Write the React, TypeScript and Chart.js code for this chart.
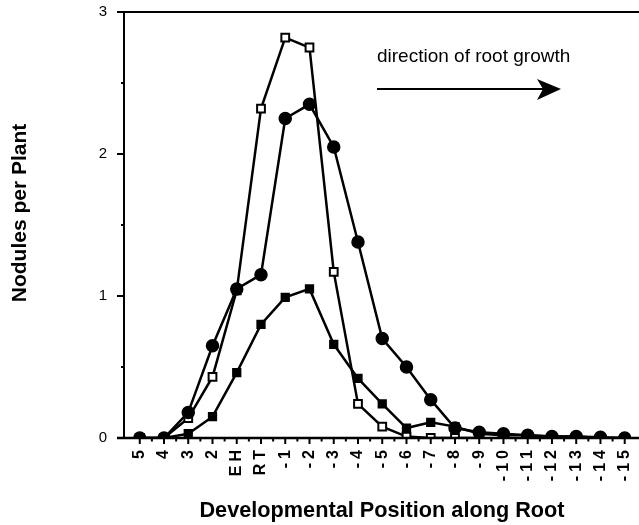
import React, { useEffect, useRef } from "react";
import { Chart, registerables } from "chart.js";

Chart.register(...registerables);

const categories = ["5", "4", "3", "2", "EH", "RT", "-1", "-2", "-3", "-4", "-5", "-6", "-7", "-8", "-9", "-10", "-11", "-12", "-13", "-14", "-15"];
const filledCircles = [0, 0, 0.18, 0.65, 1.05, 1.15, 2.25, 2.35, 2.05, 1.38, 0.7, 0.5, 0.27, 0.07, 0.04, 0.03, 0.02, 0.01, 0.01, 0.005, 0];
const filledSquares = [0, 0, 0.03, 0.15, 0.46, 0.8, 0.99, 1.05, 0.66, 0.42, 0.24, 0.07, 0.11, 0.08, 0.03, 0.02, 0.02, 0.01, 0.01, 0.0, 0];
const openSquares = [0, 0, 0.14, 0.43, 1.04, 2.32, 2.82, 2.75, 1.17, 0.24, 0.08, 0.01, 0, 0, 0, null, null, null, null, null, null];
const yTicks = [0, 1, 2, 3];

const FONT = "'Liberation Sans', Arial, Helvetica, sans-serif";

const toPoints = (arr: (number | null)[]) => arr.map((v, i) => ({ x: i, y: v }));

const decorPlugin = {
  id: "decor",
  afterDraw(chart: any) {
    const ctx = chart.ctx;
    const xs = chart.scales.x;
    const ys = chart.scales.y;
    const area = chart.chartArea;
    ctx.save();
    ctx.strokeStyle = "#000";
    ctx.fillStyle = "#000";
    ctx.lineCap = "butt";
    // axis lines
    ctx.lineWidth = 2.5;
    ctx.beginPath();
    ctx.moveTo(117, ys.getPixelForValue(0));
    ctx.lineTo(chart.width, ys.getPixelForValue(0));
    ctx.stroke();
    ctx.lineWidth = 2;
    ctx.beginPath();
    ctx.moveTo(117, ys.getPixelForValue(3));
    ctx.lineTo(chart.width, ys.getPixelForValue(3));
    ctx.stroke();
    ctx.beginPath();
    ctx.moveTo(area.left, ys.getPixelForValue(3));
    ctx.lineTo(area.left, ys.getPixelForValue(0));
    ctx.stroke();
    // y ticks
    for (let v = 0; v <= 3; v += 0.5) {
      const y = ys.getPixelForValue(v);
      const len = Number.isInteger(v) ? 7 : 3;
      ctx.beginPath();
      ctx.moveTo(area.left - len, y);
      ctx.lineTo(area.left, y);
      ctx.stroke();
    }
    // x ticks
    const y0 = ys.getPixelForValue(0);
    for (let i = 0; i <= categories.length - 1; i += 0.5) {
      const x = xs.getPixelForValue(i);
      const len = Number.isInteger(i) ? 6 : 3.5;
      ctx.beginPath();
      ctx.moveTo(x, y0);
      ctx.lineTo(x, y0 + len);
      ctx.stroke();
    }
    // x tick labels, rotated, reading bottom to top
    ctx.font = `bold 16px ${FONT}`;
    ctx.textAlign = "center";
    ctx.textBaseline = "middle";
    const ls = 4;
    categories.forEach((lab, i) => {
      const x = xs.getPixelForValue(i);
      let yTop = y0 + 12;
      for (let k = lab.length - 1; k >= 0; k--) {
        const ch = lab[k];
        const w = ctx.measureText(ch).width;
        const yc = yTop + w / 2;
        ctx.save();
        ctx.translate(x, yc);
        ctx.rotate(-Math.PI / 2);
        ctx.fillText(ch, 0, 0);
        ctx.restore();
        yTop += w + ls;
      }
    });
    // titles
    ctx.font = `bold 21.7px ${FONT}`;
    ctx.textAlign = "center";
    ctx.textBaseline = "middle";
    ctx.fillText("Developmental Position along Root", 382, 511);
    ctx.font = `bold 21px ${FONT}`;
    ctx.save();
    ctx.translate(20, 213);
    ctx.rotate(-Math.PI / 2);
    ctx.fillText("Nodules per Plant", 0, 0);
    ctx.restore();
    // annotation
    ctx.font = `19px ${FONT}`;
    ctx.textAlign = "left";
    ctx.textBaseline = "alphabetic";
    ctx.fillText("direction of root growth", 377, 62);
    ctx.lineWidth = 2;
    ctx.beginPath();
    ctx.moveTo(377, 89);
    ctx.lineTo(545, 89);
    ctx.stroke();
    ctx.beginPath();
    ctx.moveTo(537, 79);
    ctx.lineTo(561, 89);
    ctx.lineTo(537, 100);
    ctx.lineTo(543, 89);
    ctx.closePath();
    ctx.fill();
    ctx.restore();
  },
};

export default function App() {
  const ref = useRef<HTMLCanvasElement | null>(null);
  useEffect(() => {
    if (!ref.current) return;
    const common = {
      borderColor: "#000",
      borderWidth: 2.5,
      pointBorderColor: "#000",
      pointBorderWidth: 1.5,
      tension: 0,
      spanGaps: false,
    };
    const chart = new Chart(ref.current, {
      type: "line",
      data: {
        datasets: [
          {
            ...common,
            label: "circles",
            data: toPoints(filledCircles),
            pointStyle: "circle",
            pointRadius: 6,
            pointBackgroundColor: "#000",
          },
          {
            ...common,
            label: "filled squares",
            data: toPoints(filledSquares),
            pointStyle: "rect",
            pointRadius: 5.5,
            pointBackgroundColor: "#000",
          },
          {
            ...common,
            label: "open squares",
            data: toPoints(openSquares),
            pointStyle: "rect",
            pointRadius: 5.5,
            pointBorderWidth: 2,
            pointBackgroundColor: "#fff",
          },
        ],
      },
      options: {
        responsive: false,
        animation: false,
        layout: { padding: { top: 12, left: 0, right: 0, bottom: 0 } },
        plugins: { legend: { display: false }, tooltip: { enabled: false } },
        scales: {
          x: {
            type: "linear",
            min: -0.65,
            max: 20.28,
            afterFit: (s: any) => {
              s.height = 87;
              s.paddingLeft = 0;
              s.paddingRight = 0;
            },
            afterBuildTicks: (s: any) => {
              s.ticks = categories.map((_, i) => ({ value: i }));
            },
            grid: { display: false, drawTicks: false },
            border: { display: false },
            ticks: { display: false },
          },
          y: {
            type: "linear",
            min: 0,
            max: 3,
            afterFit: (s: any) => {
              s.width = 124;
              s.paddingTop = 0;
              s.paddingBottom = 0;
            },
            afterBuildTicks: (s: any) => {
              s.ticks = yTicks.map((v) => ({ value: v }));
            },
            grid: { display: false, drawTicks: false },
            border: { display: false },
            ticks: {
              padding: 17,
              color: "#000",
              font: { family: FONT, size: 15 },
            },
          },
        },
      },
      plugins: [decorPlugin],
    } as any);
    return () => chart.destroy();
  }, []);
  return (
    <div style={{ position: "fixed", left: 0, top: 0, width: 639, height: 525, background: "#fff" }}>
      <canvas ref={ref} width={639} height={525} style={{ width: 639, height: 525, display: "block" }} />
    </div>
  );
}
